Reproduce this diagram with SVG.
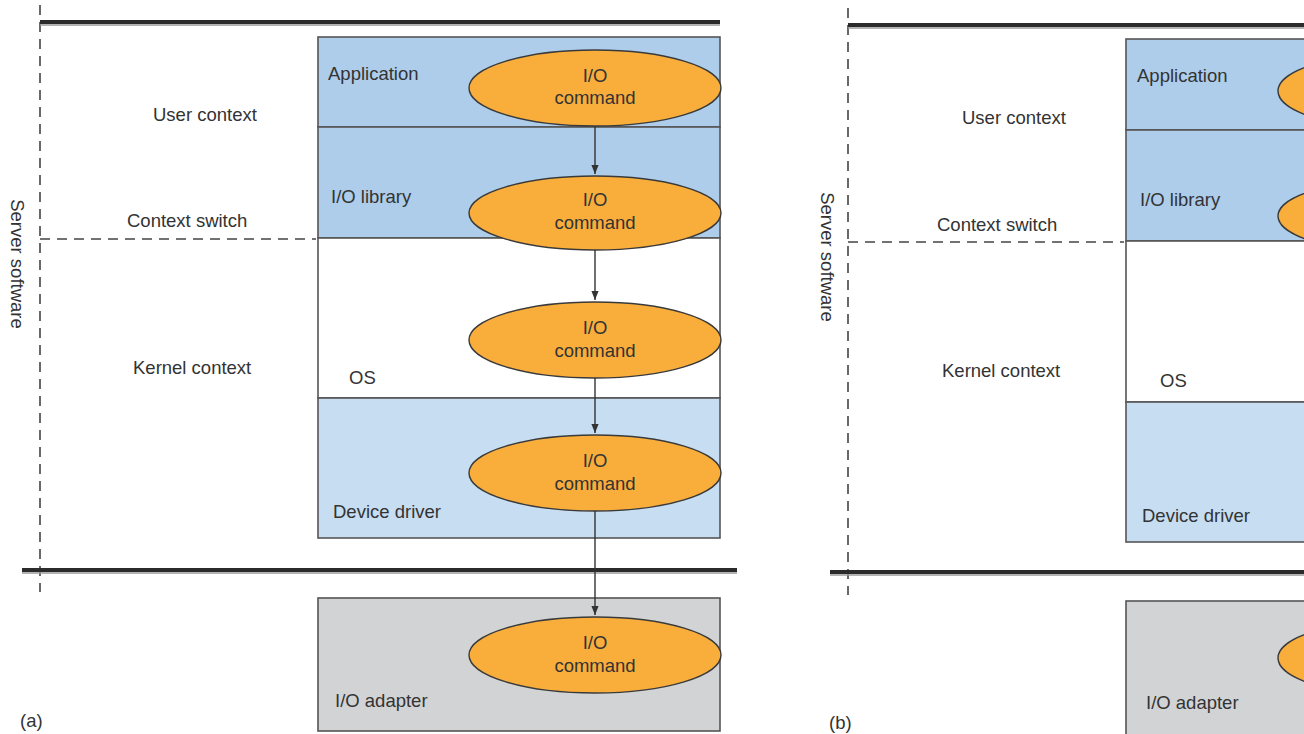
<svg xmlns="http://www.w3.org/2000/svg" width="1304" height="734" viewBox="0 0 1304 734">
<defs>
<style>
.t{font-family:"Liberation Sans",Arial,sans-serif;font-size:18.5px;fill:#333}
.c{text-anchor:middle}
.bar{stroke:#2b2b2b;stroke-width:4;fill:none}
.bar2{stroke:#9a9a9a;stroke-width:1.5;fill:none}
.dash{stroke:#444;stroke-width:1.6;stroke-dasharray:10 7;fill:none}
.box{stroke:#555;stroke-width:1.6}
.b1{fill:#adcdeb}
.b2{fill:#c6ddf2}
.b3{fill:#ffffff}
.b4{fill:#d2d3d5}
.ell{fill:#f9ae3c;stroke:#3a3a3a;stroke-width:1.4}
.arr{stroke:#333;stroke-width:1.4;fill:none;marker-end:url(#ah)}
</style>
<marker id="ah" viewBox="0 0 10 10" refX="10" refY="5" markerWidth="9" markerHeight="9" markerUnits="userSpaceOnUse" orient="auto">
<path d="M0,1 L10,5 L0,9 Z" fill="#333"/>
</marker>
</defs>
<rect width="1304" height="734" fill="#fff"/>

<!-- Panel (a) frame -->
<g id="frame-a">
<line class="dash" x1="40" y1="5" x2="40" y2="592"/>
<line class="dash" x1="40" y1="239" x2="316" y2="239"/>
<line class="bar2" x1="40" y1="25" x2="720" y2="25"/>
<line class="bar" x1="40" y1="22" x2="720" y2="22"/>
<line class="bar2" x1="22" y1="573" x2="737" y2="573"/>
<line class="bar" x1="22" y1="570" x2="737" y2="570"/>
<text class="t c" transform="translate(11,264) rotate(90)">Server software</text>
<text class="t" x="153" y="121">User context</text>
<text class="t" x="127" y="227">Context switch</text>
<text class="t" x="133" y="374">Kernel context</text>
<text class="t" x="20" y="727">(a)</text>
</g>

<g id="a-application">
<rect class="box b1" x="318" y="37" width="402" height="90"/>
<text class="t" x="328" y="80">Application</text>
</g>
<g id="a-iolibrary">
<rect class="box b1" x="318" y="127" width="402" height="111"/>
<text class="t" x="331" y="203">I/O library</text>
</g>
<g id="a-os">
<rect class="box b3" x="318" y="238" width="402" height="160"/>
<text class="t" x="349" y="384">OS</text>
</g>
<g id="a-driver">
<rect class="box b2" x="318" y="398" width="402" height="140"/>
<text class="t" x="333" y="518">Device driver</text>
</g>
<g id="a-adapter">
<rect class="box b4" x="318" y="598" width="402" height="133"/>
<text class="t" x="335" y="707">I/O adapter</text>
</g>

<g id="a-cmd1">
<ellipse class="ell" cx="595" cy="88" rx="126" ry="38"/>
<text class="t c" x="595" y="82">I/O</text>
<text class="t c" x="595" y="104">command</text>
</g>
<g id="a-cmd2">
<ellipse class="ell" cx="595" cy="213" rx="126" ry="37"/>
<text class="t c" x="595" y="206">I/O</text>
<text class="t c" x="595" y="229">command</text>
</g>
<g id="a-cmd3">
<ellipse class="ell" cx="595" cy="340" rx="126" ry="38"/>
<text class="t c" x="595" y="334">I/O</text>
<text class="t c" x="595" y="357">command</text>
</g>
<g id="a-cmd4">
<ellipse class="ell" cx="595" cy="473" rx="126" ry="38"/>
<text class="t c" x="595" y="467">I/O</text>
<text class="t c" x="595" y="490">command</text>
</g>
<g id="a-cmd5">
<ellipse class="ell" cx="595" cy="655" rx="126" ry="38"/>
<text class="t c" x="595" y="649">I/O</text>
<text class="t c" x="595" y="672">command</text>
</g>

<g id="connectors">
<line class="arr" x1="595" y1="127" x2="595" y2="174"/>
<line class="arr" x1="595" y1="250" x2="595" y2="300"/>
<line class="arr" x1="595" y1="378" x2="595" y2="433"/>
<line class="arr" x1="595" y1="511" x2="595" y2="615"/>
</g>

<!-- Panel (b) frame -->
<g id="frame-b">
<line class="dash" x1="848" y1="8" x2="848" y2="595"/>
<line class="dash" x1="848" y1="242" x2="1124" y2="242"/>
<line class="bar2" x1="848" y1="28" x2="1304" y2="28"/>
<line class="bar" x1="848" y1="25" x2="1304" y2="25"/>
<line class="bar2" x1="830" y1="575" x2="1304" y2="575"/>
<line class="bar" x1="830" y1="572" x2="1304" y2="572"/>
<text class="t c" transform="translate(821,257) rotate(90)">Server software</text>
<text class="t" x="962" y="124">User context</text>
<text class="t" x="937" y="231">Context switch</text>
<text class="t" x="942" y="377">Kernel context</text>
<text class="t" x="829" y="729">(b)</text>
</g>

<g id="b-application">
<rect class="box b1" x="1126" y="39" width="200" height="91"/>
<text class="t" x="1137" y="82">Application</text>
</g>
<g id="b-iolibrary">
<rect class="box b1" x="1126" y="130" width="200" height="111"/>
<text class="t" x="1140" y="206">I/O library</text>
</g>
<g id="b-os">
<rect class="box b3" x="1126" y="241" width="200" height="161"/>
<text class="t" x="1160" y="387">OS</text>
</g>
<g id="b-driver">
<rect class="box b2" x="1126" y="402" width="200" height="140"/>
<text class="t" x="1142" y="522">Device driver</text>
</g>
<g id="b-adapter">
<rect class="box b4" x="1126" y="601" width="200" height="140"/>
<text class="t" x="1146" y="709">I/O adapter</text>
</g>

<g id="b-cmd1"><ellipse class="ell" cx="1404" cy="91" rx="126" ry="38"/></g>
<g id="b-cmd2"><ellipse class="ell" cx="1404" cy="216" rx="126" ry="37"/></g>
<g id="b-cmd5"><ellipse class="ell" cx="1404" cy="658" rx="126" ry="38"/></g>
</svg>
